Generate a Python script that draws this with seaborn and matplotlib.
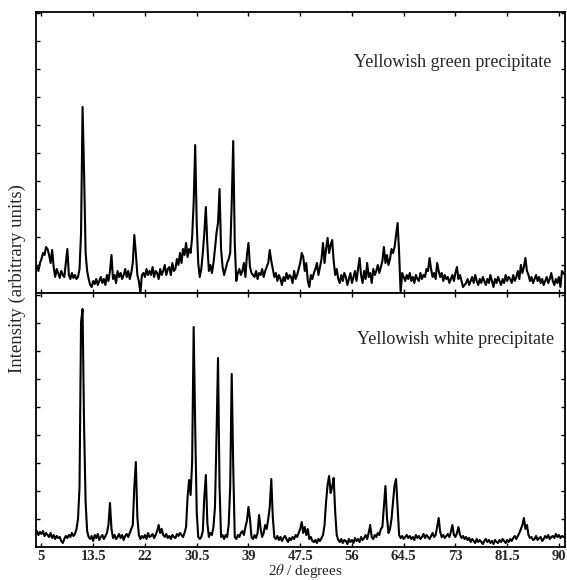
import numpy as np
import pandas as pd
import matplotlib
matplotlib.use("Agg")
import matplotlib.pyplot as plt
import seaborn as sns

# ---------------- data ----------------
two_theta_start = 4.0
two_theta_step = 0.25

# Yellowish green precipitate (upper pattern), arbitrary units
green_intensity = [
    20, 26, 22, 30,   # 4
    34, 40, 38, 46,   # 5
    44, 38, 30, 43,   # 6
    26, 16, 24, 20,   # 7
    15, 22, 18, 16,   # 8
    30, 44, 18, 14,   # 9
    20, 15, 18, 14,   # 10
    16, 24, 60, 186,  # 11
    120, 40, 22, 14,  # 12
    8, 6, 12, 9,      # 13
    14, 8, 12, 16,    # 14
    10, 14, 8, 18,    # 15
    12, 22, 38, 14,   # 16
    18, 10, 22, 16,   # 17
    20, 14, 18, 24,   # 18
    16, 22, 14, 20,   # 19
    30, 58, 40, 18,   # 20
    12, 0, 18, 20,    # 21
    16, 24, 18, 22,   # 22
    18, 26, 16, 22,   # 23
    20, 14, 24, 18,   # 24
    22, 28, 18, 24,   # 25
    26, 18, 30, 22,   # 26
    24, 34, 28, 40,   # 27
    30, 44, 38, 50,   # 28
    36, 44, 40, 56,   # 29
    90, 148, 70, 30,  # 30
    16, 24, 40, 60,   # 31
    86, 48, 22, 28,   # 32
    20, 30, 44, 60,   # 33
    70, 104, 44, 26,  # 34
    18, 24, 30, 34,   # 35
    40, 90, 152, 50,  # 36
    12, 20, 24, 18,   # 37
    22, 30, 16, 38,   # 38
    50, 26, 20, 18,   # 39
    16, 22, 14, 20,   # 40
    18, 24, 16, 22,   # 41
    26, 30, 43, 32,   # 42
    24, 16, 20, 12,   # 43
    18, 14, 8, 16,    # 44
    12, 20, 14, 18,   # 45
    16, 10, 22, 14,   # 46
    18, 24, 30, 40,   # 47
    36, 22, 30, 12,   # 48
    6, 18, 14, 20,    # 49
    24, 30, 18, 26,   # 50
    34, 50, 30, 44,   # 51
    55, 40, 48, 53,   # 52
    32, 18, 24, 14,   # 53
    10, 18, 12, 20,   # 54
    16, 8, 14, 20,    # 55
    10, 16, 22, 12,   # 56
    24, 35, 18, 10,   # 57
    22, 14, 30, 16,   # 58
    20, 10, 24, 18,   # 59
    22, 28, 20, 26,   # 60
    32, 46, 30, 38,   # 61
    28, 34, 44, 40,   # 62
    46, 58, 70, 40,   # 63
    0, 20, 16, 12,    # 64
    18, 14, 20, 12,   # 65
    16, 10, 18, 14,   # 66
    12, 20, 14, 18,   # 67
    16, 24, 22, 35,   # 68
    24, 16, 20, 14,   # 69
    30, 22, 16, 20,   # 70
    12, 18, 14, 16,   # 71
    10, 14, 18, 12,   # 72
    20, 26, 14, 18,   # 73
    12, 6, 8, 10,     # 74
    14, 8, 12, 16,    # 75
    10, 18, 12, 8,    # 76
    14, 10, 16, 12,   # 77
    8, 14, 10, 18,    # 78
    12, 6, 14, 10,    # 79
    16, 12, 8, 14,    # 80
    10, 18, 12, 16,   # 81
    14, 10, 18, 12,   # 82
    16, 22, 14, 28,   # 83
    20, 26, 35, 22,   # 84
    18, 12, 16, 10,   # 85
    14, 18, 12, 16,   # 86
    10, 14, 8, 12,    # 87
    16, 10, 14, 20,   # 88
    12, 8, 14, 10,    # 89
    16, 6, 22, 20,    # 90
    18, 14,           # 91
]

# Yellowish white precipitate (lower pattern), arbitrary units
white_intensity = [
    14, 16, 12, 15,   # 4
    13, 16, 11, 14,   # 5
    12, 10, 14, 9,    # 6
    12, 8, 11, 9,     # 7
    10, 6, 4, 8,      # 8
    11, 9, 12, 10,    # 9
    14, 11, 13, 18,   # 10
    28, 60, 225, 238, # 11
    120, 45, 16, 10,  # 12
    8, 11, 6, 12,     # 13
    9, 13, 7, 10,     # 14
    12, 8, 11, 14,    # 15
    22, 44, 18, 9,    # 16
    12, 8, 10, 13,    # 17
    9, 12, 7, 11,     # 18
    13, 10, 14, 18,   # 19
    22, 60, 85, 30,   # 20
    12, 8, 11, 9,     # 21
    12, 8, 14, 10,    # 22
    11, 13, 9, 12,    # 23
    16, 22, 14, 18,   # 24
    12, 10, 13, 9,    # 25
    11, 8, 12, 10,    # 26
    9, 13, 11, 14,    # 27
    12, 10, 14, 20,   # 28
    50, 67, 52, 85,   # 29
    220, 120, 35, 10, # 30
    8, 10, 16, 50,    # 31
    72, 24, 10, 14,   # 32
    12, 20, 40, 110,  # 33
    189, 60, 10, 12,  # 34
    8, 12, 10, 22,    # 35
    60, 173, 80, 10,  # 36
    8, 12, 10, 14,    # 37
    16, 12, 20, 26,   # 38
    40, 28, 10, 8,    # 39
    12, 9, 14, 32,    # 40
    18, 10, 14, 22,   # 41
    18, 28, 40, 68,   # 42
    30, 10, 8, 11,    # 43
    7, 10, 6, 9,      # 44
    11, 8, 5, 9,      # 45
    7, 10, 8, 12,     # 46
    10, 14, 18, 25,   # 47
    14, 20, 12, 18,   # 48
    8, 10, 6, 5,      # 49
    7, 4, 8, 6,       # 50
    9, 12, 22, 45,    # 51
    62, 71, 54, 60,   # 52
    69, 35, 12, 7,    # 53
    5, 8, 4, 7,       # 54
    6, 3, 8, 5,       # 55
    7, 4, 9, 6,       # 56
    8, 5, 10, 7,      # 57
    9, 12, 8, 14,     # 58
    22, 10, 8, 12,    # 59
    10, 14, 12, 18,   # 60
    20, 40, 61, 30,   # 61
    14, 18, 28, 45,   # 62
    62, 68, 40, 12,   # 63
    9, 11, 8, 10,     # 64
    12, 9, 11, 8,     # 65
    10, 7, 12, 9,     # 66
    11, 8, 10, 13,    # 67
    9, 12, 10, 8,     # 68
    11, 14, 10, 12,   # 69
    20, 29, 15, 10,   # 70
    12, 9, 11, 13,    # 71
    10, 15, 22, 12,   # 72
    10, 14, 20, 12,   # 73
    9, 11, 8, 10,     # 74
    7, 9, 5, 8,       # 75
    6, 4, 8, 5,       # 76
    7, 5, 3, 6,       # 77
    8, 5, 7, 4,       # 78
    6, 3, 7, 5,       # 79
    4, 7, 5, 8,       # 80
    6, 4, 7, 5,       # 81
    8, 6, 9, 11,      # 82
    8, 11, 14, 18,    # 83
    22, 29, 18, 22,   # 84
    12, 9, 10, 7,     # 85
    8, 11, 7, 9,      # 86
    10, 6, 8, 11,     # 87
    9, 12, 8, 10,     # 88
    11, 9, 13, 10,    # 89
    12, 9, 11, 10,    # 90
    11, 10,           # 91
]

tick_values = [5, 13.5, 22, 30.5, 39, 47.5, 56, 64.5, 73, 81.5, 90]
tick_labels = ["5", "13.5", "22", "30.5", "39", "47.5", "56", "64.5", "73", "81.5", "90"]

label_green = "Yellowish green precipitate"
label_white = "Yellowish white precipitate"
x_label = r"2$\theta$ / degrees"
y_label = "Intensity (arbitrary units)"

# ---------------- build frames ----------------
two_theta_green = np.round(two_theta_start + two_theta_step * np.arange(len(green_intensity)), 2)
two_theta_white = np.round(two_theta_start + two_theta_step * np.arange(len(white_intensity)), 2)
df_green = pd.DataFrame({"two_theta": two_theta_green, "intensity": green_intensity})
df_white = pd.DataFrame({"two_theta": two_theta_white, "intensity": white_intensity})

# ---------------- style ----------------
sns.set_style("ticks")
plt.rcParams["font.family"] = ["Liberation Serif", "DejaVu Serif"]
plt.rcParams["mathtext.fontset"] = "stix"

W, H = 567, 580
fig = plt.figure(figsize=(W / 100, H / 100), dpi=100)
left, right = 36, 565
ax1 = fig.add_axes([left / W, 1 - 293 / H, (right - left) / W, 281 / H])
ax2 = fig.add_axes([left / W, 1 - 547 / H, (right - left) / W, 254 / H])

sns.lineplot(data=df_green, x="two_theta", y="intensity", ax=ax1,
             color="black", linewidth=1.5, estimator=None, sort=True)
sns.lineplot(data=df_white, x="two_theta", y="intensity", ax=ax2,
             color="black", linewidth=1.5, estimator=None, sort=True)

for ax, ytop in ((ax1, 281), (ax2, 254)):
    ax.set_xlim(4.1, 91.0)
    ax.set_ylim(0, ytop)
    ax.set_xticks(tick_values)
    ax.set_yticks(np.arange(28, ytop, 28))
    ax.set_yticklabels([])
    ax.set_xlabel("")
    ax.set_ylabel("")
    ax.tick_params(axis="both", direction="in", top=True, right=True,
                   length=3, width=1.0, color="black")
    for s in ax.spines.values():
        s.set_linewidth(1.3)
        s.set_color("black")
        s.set_visible(True)

ax1.set_xticklabels([])
ax2.set_xticklabels(tick_labels, fontsize=10.5, fontweight="bold")
ax2.tick_params(axis="x", pad=2)

ax1.text(0.975, 0.822, label_green, transform=ax1.transAxes, ha="right",
         va="center", fontsize=13)
ax2.text(0.98, 0.815, label_white, transform=ax2.transAxes, ha="right",
         va="center", fontsize=13)

fig.text(305 / W, 1 - 562 / H, x_label, ha="center", va="top", fontsize=11)
fig.text(17 / W, 1 - 279 / H, y_label, ha="center", va="center",
         rotation=90, fontsize=13.5)

fig.savefig("out.png", dpi=100)
